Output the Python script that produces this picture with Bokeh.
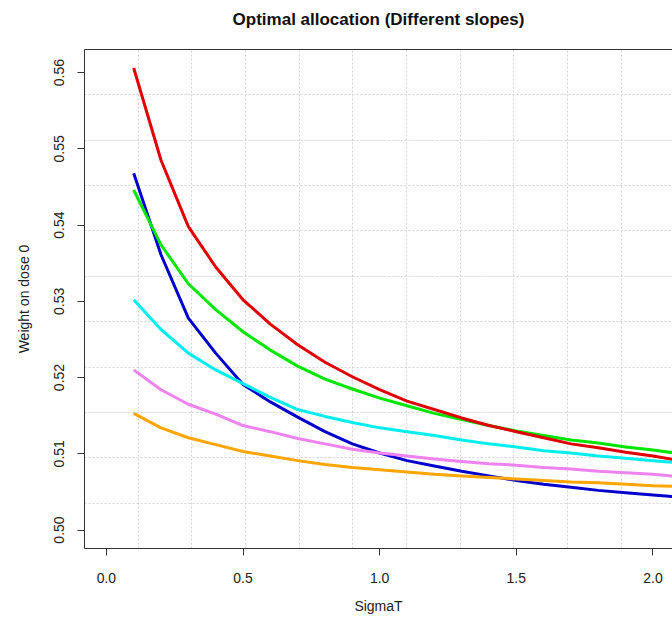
from bokeh.plotting import figure
from bokeh.models import Range1d, FixedTicker, LinearAxis, NumeralTickFormatter, Grid
from bokeh.embed import file_html
from bokeh.resources import INLINE

# ---- data ----
sigma = [0.1, 0.2, 0.3, 0.4, 0.5, 0.6, 0.7, 0.8, 0.9, 1.0, 1.1,
         1.2, 1.3, 1.4, 1.5, 1.6, 1.7, 1.8, 1.9, 2.0, 2.1]
red = [0.5606, 0.5485, 0.5398, 0.5345, 0.5302, 0.5270, 0.5243, 0.5220, 0.5201, 0.5184, 0.5169,
       0.5158, 0.5147, 0.5137, 0.5129, 0.5121, 0.5113, 0.5108, 0.5102, 0.5097, 0.5091]
green = [0.5446, 0.5374, 0.5323, 0.5289, 0.5260, 0.5236, 0.5215, 0.5198, 0.5185, 0.5173, 0.5163,
         0.5153, 0.5145, 0.5137, 0.5130, 0.5124, 0.5118, 0.5114, 0.5109, 0.5105, 0.5100]
cyan = [0.5302, 0.5263, 0.5232, 0.5210, 0.5192, 0.5174, 0.5158, 0.5149, 0.5141, 0.5134, 0.5129,
        0.5124, 0.5118, 0.5113, 0.5109, 0.5104, 0.5101, 0.5097, 0.5094, 0.5091, 0.5088]
violet = [0.5210, 0.5184, 0.5165, 0.5152, 0.5137, 0.5129, 0.5120, 0.5113, 0.5106, 0.5101, 0.5097,
          0.5093, 0.5090, 0.5087, 0.5085, 0.5082, 0.5080, 0.5077, 0.5075, 0.5073, 0.5070]
orange = [0.5153, 0.5134, 0.5121, 0.5112, 0.5103, 0.5097, 0.5091, 0.5086, 0.5082, 0.5079, 0.5076,
          0.5073, 0.5071, 0.5069, 0.5067, 0.5065, 0.5063, 0.5062, 0.5060, 0.5058, 0.5057]
blue = [0.5468, 0.5361, 0.5278, 0.5232, 0.5191, 0.5168, 0.5148, 0.5129, 0.5113, 0.5101, 0.5091,
        0.5084, 0.5077, 0.5071, 0.5065, 0.5060, 0.5056, 0.5052, 0.5049, 0.5046, 0.5043]

x_ticks = [0.0, 0.5, 1.0, 1.5, 2.0]
y_ticks = [0.50, 0.51, 0.52, 0.53, 0.54, 0.55, 0.56]

series = [
    (blue, "#0000CD"),
    (green, "#00E600"),
    (cyan, "#00EEEE"),
    (violet, "#EE82EE"),
    (orange, "#FFA500"),
    (red, "#E00000"),
]

# R-like user coordinates: xlim = c(0, 2), ylim = c(0.5, max) with 4% expansion
x_lo, x_hi = -0.08, 2.08
y_lo = 0.5 - 0.04 * (max(red) - 0.5)
y_hi = max(red) + 0.04 * (max(red) - 0.5)
x_grid = [x_lo + k * (x_hi - x_lo) / 11 for k in range(1, 11)]
y_grid = [y_lo + k * (y_hi - y_lo) / 11 for k in range(1, 11)]

FONT = "Liberation Sans"

p = figure(width=672, height=623, output_backend="svg", toolbar_location=None,
           x_range=Range1d(x_lo, 2.0715), y_range=Range1d(y_lo, y_hi),
           x_axis_location=None, y_axis_location=None,
           min_border_left=84, min_border_right=0, min_border_top=49, min_border_bottom=75)
p.outline_line_color = None
p.background_fill_color = "white"
p.border_fill_color = "white"

p.title.text = "Optimal allocation (Different slopes)"
p.title.align = "center"
p.title.text_font = FONT
p.title.text_font_size = "17px"
p.title.text_font_style = "bold"
p.title.text_color = "#111111"
p.title.standoff = 10
p.title.padding = dict(left=0, right=0, top=0, bottom=16)

# axes
ax_l = LinearAxis(ticker=FixedTicker(ticks=y_ticks), formatter=NumeralTickFormatter(format="0.00"))
ax_b = LinearAxis(ticker=FixedTicker(ticks=x_ticks), formatter=NumeralTickFormatter(format="0.0"))
ax_t = LinearAxis(ticker=FixedTicker(ticks=[]))
for ax in (ax_l, ax_b, ax_t):
    ax.axis_line_color = "#333333"
    ax.axis_line_width = 1
    ax.major_tick_line_color = "#333333"
    ax.major_tick_out = 7
    ax.major_tick_in = 0
    ax.minor_tick_line_color = None
    ax.major_label_text_font = FONT
    ax.major_label_text_font_size = "14px"
    ax.major_label_text_color = "#222222"
    ax.axis_label_text_font = FONT
    ax.axis_label_text_font_size = "14px"
    ax.axis_label_text_font_style = "normal"
    ax.axis_label_text_color = "#222222"
ax_t.major_label_text_font_size = "0px"
ax_t.major_tick_out = 0
ax_t.major_label_standoff = 0
ax_t.axis_label_standoff = 0

ax_l.axis_label = "Weight on dose 0"
ax_l.major_label_orientation = "vertical"
ax_l.major_label_standoff = 13
ax_l.axis_label_standoff = 20

ax_b.axis_label = "SigmaT"
ax_b.major_label_standoff = 17
ax_b.axis_label_standoff = 12

p.add_layout(ax_l, "left")
p.add_layout(ax_b, "below")
p.add_layout(ax_t, "above")

# grid lines (dotted light gray, as R's grid())
p.xgrid.visible = False
p.ygrid.visible = False
gx = Grid(dimension=0, ticker=FixedTicker(ticks=x_grid), grid_line_color="#D3D3D3",
          grid_line_dash="2 2", grid_line_width=1)
gy = Grid(dimension=1, ticker=FixedTicker(ticks=y_grid), grid_line_color="#D3D3D3",
          grid_line_dash="2 2", grid_line_width=1)
p.add_layout(gx)
p.add_layout(gy)

for ys, col in series:
    p.line(sigma, ys, line_color=col, line_width=3)

open("out.html", "w").write(file_html(p, INLINE))
